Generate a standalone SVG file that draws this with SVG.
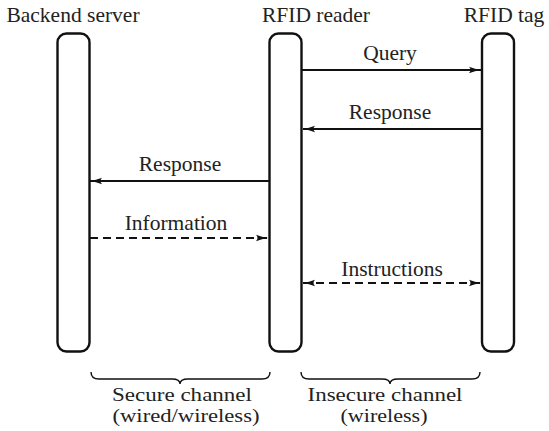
<svg xmlns="http://www.w3.org/2000/svg" width="549" height="431" viewBox="0 0 549 431">
<style>
text{font-family:"Liberation Serif","Times New Roman",serif;font-size:21.5px;fill:#222;text-anchor:middle}
text.sm{font-size:18px}
.bar{fill:#fff;stroke:#111;stroke-width:2.4}
.ln{stroke:#111;stroke-width:1.8;fill:none}
.ds{stroke-dasharray:8,5}
.br{stroke:#111;stroke-width:1.4;fill:none}
</style>
<defs>
<marker id="ah" viewBox="0 0 12 8" refX="12" refY="4" markerWidth="12" markerHeight="8" markerUnits="userSpaceOnUse" orient="auto-start-reverse">
<path d="M0,0.8 Q6,3 12,4 Q6,5 0,7.2 Q3,4 0,0.8Z" fill="#111"/>
</marker>
</defs>
<g id="backend">
<rect class="bar" x="57.5" y="33.5" width="32" height="318" rx="9"/>
<text x="73" y="22">Backend server</text>
</g>
<g id="reader">
<rect class="bar" x="269.5" y="33.5" width="32" height="318" rx="9"/>
<text x="316" y="22">RFID reader</text>
</g>
<g id="tag">
<rect class="bar" x="482" y="33.5" width="32" height="318" rx="9"/>
<text x="504" y="22">RFID tag</text>
</g>
<g id="connectors">
<line class="ln" x1="302" y1="70" x2="481" y2="70" marker-end="url(#ah)"/>
<text x="390" y="60">Query</text>
<line class="ln" x1="481" y1="129" x2="303" y2="129" marker-end="url(#ah)"/>
<text x="390" y="119">Response</text>
<line class="ln" x1="269" y1="181" x2="90" y2="181" marker-end="url(#ah)"/>
<text x="180" y="171">Response</text>
<line class="ln ds" x1="90" y1="238" x2="268" y2="238" marker-end="url(#ah)"/>
<text x="176" y="230">Information</text>
<line class="ln ds" x1="303" y1="283" x2="481" y2="283" marker-start="url(#ah)" marker-end="url(#ah)"/>
<text x="392" y="276">Instructions</text>
</g>
<g id="braces">
<path class="br" d="M91,372 Q91,379 99,379 L172,379 Q180,379 180,384 Q180,379 188,379 L262,379 Q270,379 270,372"/>
<path class="br" d="M301,372 Q301,379 309,379 L382,379 Q390,379 390,384 Q390,379 398,379 L472,379 Q480,379 480,372"/>
<text class="sm" x="182" y="401" textLength="140" lengthAdjust="spacingAndGlyphs">Secure channel</text>
<text class="sm" x="186" y="422" textLength="147" lengthAdjust="spacingAndGlyphs">(wired/wireless)</text>
<text class="sm" x="385" y="401" textLength="155" lengthAdjust="spacingAndGlyphs">Insecure channel</text>
<text class="sm" x="384" y="422" textLength="87" lengthAdjust="spacingAndGlyphs">(wireless)</text>
</g>
</svg>
